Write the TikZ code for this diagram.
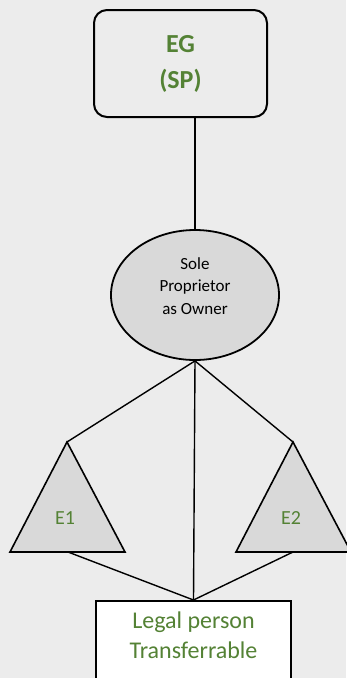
\documentclass[tikz,border=0pt]{standalone}
\usepackage{fontspec}
\setmainfont{Carlito}
\usetikzlibrary{shapes.geometric}
\definecolor{bg}{HTML}{ECECEC}
\definecolor{grn}{HTML}{548235}
\definecolor{fillg}{HTML}{D9D9D9}
\begin{document}
\begin{tikzpicture}[x=1pt,y=-1pt,
  conn/.style={line width=1.4pt},
  tri/.style={draw,line width=1.6pt,fill=fillg,line join=miter},
  lbl/.style={text=grn,font=\fontsize{20}{22}\selectfont}]
\useasboundingbox[fill=bg] (0,0) rectangle (346,678);
% top box
\node[draw,line width=2pt,rounded corners=13pt,fill=bg,minimum width=173pt,minimum height=107pt,inner sep=0pt,
  text=grn,font=\bfseries\fontsize{26}{36}\selectfont,align=center] (eg) at (180.5,63.5) {EG\\(SP)};
% ellipse
\node[ellipse,draw,line width=1.8pt,fill=fillg,minimum width=168pt,minimum height=130pt,inner sep=0pt,
  font=\fontsize{17}{22.5}\selectfont,align=center] (sp) at (195,295) {};
\node[font=\fontsize{17}{22.5}\selectfont,align=center] (sptext) at (195,286) {Sole\\Proprietor\\as Owner};
% bottom box
\node[draw,line width=1.6pt,fill=white,minimum width=195pt,minimum height=100pt,inner sep=0pt,anchor=north] (lp) at (193.5,600) {};
\node[text=grn,font=\fontsize{24}{30}\selectfont,align=center] (lptext) at (193.5,635) {Legal person\\Transferrable};
% triangles
\coordinate (a1) at (67,442);
\coordinate (b1) at (68,552);
\coordinate (a2) at (293,442);
\coordinate (b2) at (293,552);
\draw[tri] (a1) -- (125,552) -- (10,552) -- cycle;
\draw[tri] (a2) -- (351,552) -- (236,552) -- cycle;
\node[lbl] (e1) at (65,518) {E1};
\node[lbl] (e2) at (291,518) {E2};
% connectors
\draw[conn] (sp.north |- eg.south) -- (sp.north);
\draw[conn] (sp.south) -- (a1);
\draw[conn] (sp.south) -- (a2);
\draw[conn] (sp.south) -- (lp.north);
\draw[conn] (b1) -- (lp.north);
\draw[conn] (b2) -- (lp.north);
\end{tikzpicture}
\end{document}
